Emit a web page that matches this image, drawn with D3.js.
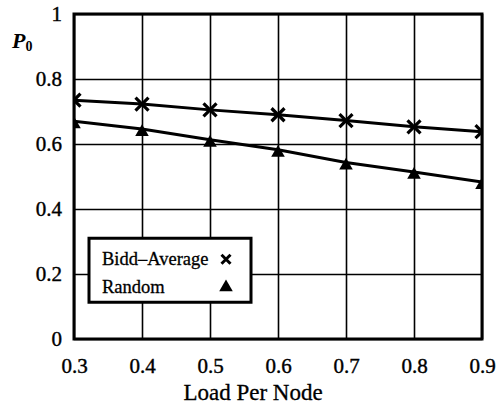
<!DOCTYPE html>
<html>
<head>
<meta charset="utf-8">
<script src="https://cdn.jsdelivr.net/npm/d3@7"></script>
<style>
  body { margin: 0; background: #fff; }
  text { font-family: 'Liberation Serif', 'DejaVu Serif', serif; fill: #000; }
</style>
</head>
<body>
<div id="chart"></div>
<script>
var loads = [0.3, 0.4, 0.5, 0.6, 0.7, 0.8, 0.9];
var biddAverage = [0.735, 0.723, 0.705, 0.69, 0.672, 0.653, 0.638];
var randomP0 = [0.67, 0.646, 0.613, 0.582, 0.543, 0.514, 0.483];
var xTicks = [0.3, 0.4, 0.5, 0.6, 0.7, 0.8, 0.9];
var yTicks = [0, 0.2, 0.4, 0.6, 0.8, 1];
var yTickLabels = ['0', '0.2', '0.4', '0.6', '0.8', '1'];
var seriesNames = ['Bidd\u2013Average', 'Random'];

var W = 498, H = 409;
var margin = { top: 14, right: 16, bottom: 70, left: 74 };
var width = W - margin.left - margin.right;
var height = H - margin.top - margin.bottom;

var svg = d3.select('#chart').append('svg')
  .attr('width', W)
  .attr('height', H);

var g = svg.append('g')
  .attr('transform', 'translate(' + margin.left + ',' + margin.top + ')');

var x = d3.scaleLinear().domain([0.3, 0.9]).range([0, width]);
var y = d3.scaleLinear().domain([0, 1]).range([height, 0]);

g.append('clipPath').attr('id', 'clip')
  .append('rect').attr('width', width).attr('height', height);

//--- GRID
g.append('g')
  .attr('transform', 'translate(0,' + height + ')')
  .call(d3.axisBottom(x).tickValues(xTicks).tickSize(-height).tickFormat(''))
  .call(function(s) {
    s.select('.domain').remove();
    s.selectAll('line').attr('stroke', '#000').attr('stroke-width', 1.6);
  });

g.append('g')
  .call(d3.axisLeft(y).tickValues(yTicks).tickSize(-width).tickFormat(''))
  .call(function(s) {
    s.select('.domain').remove();
    s.selectAll('line').attr('stroke', '#000').attr('stroke-width', 1.6);
  });

//--- TICK LABELS
g.append('g')
  .attr('transform', 'translate(0,' + height + ')')
  .call(d3.axisBottom(x).tickValues(xTicks).tickSize(0).tickPadding(19)
    .tickFormat(d3.format('.1f')))
  .call(function(s) {
    s.select('.domain').remove();
    s.selectAll('text').attr('font-size', 21).attr('font-family', 'Liberation Serif')
      .attr('stroke', '#000').attr('stroke-width', 0.4);
  });

g.append('g')
  .call(d3.axisLeft(y).tickValues(yTicks).tickSize(0).tickPadding(12)
    .tickFormat(function(d, i) { return yTickLabels[i]; }))
  .call(function(s) {
    s.select('.domain').remove();
    s.selectAll('text').attr('font-size', 21).attr('font-family', 'Liberation Serif')
      .attr('stroke', '#000').attr('stroke-width', 0.4);
  });

//--- LINES
var series = [biddAverage, randomP0];
var line = d3.line()
  .x(function(d, i) { return x(loads[i]); })
  .y(function(d) { return y(d); });

var plot = g.append('g').attr('clip-path', 'url(#clip)');

series.forEach(function(s) {
  plot.append('path')
    .datum(s)
    .attr('fill', 'none')
    .attr('stroke', '#000')
    .attr('stroke-width', 3)
    .attr('d', line);
});

function cross(sel, size, sw) {
  sel.append('path')
    .attr('d', 'M' + (-size) + ',' + (-size) + 'L' + size + ',' + size +
      'M' + (-size) + ',' + size + 'L' + size + ',' + (-size))
    .attr('stroke', '#000').attr('stroke-width', sw).attr('fill', 'none');
}

var triangle = d3.symbol().type(d3.symbolTriangle).size(80);

plot.selectAll('.xmark')
  .data(biddAverage)
  .join('g')
  .attr('class', 'xmark')
  .attr('transform', function(d, i) { return 'translate(' + x(loads[i]) + ',' + y(d) + ')'; })
  .each(function() { cross(d3.select(this), 6.5, 3.2); });

plot.selectAll('.tri')
  .data(randomP0)
  .join('path')
  .attr('class', 'tri')
  .attr('transform', function(d, i) { return 'translate(' + x(loads[i]) + ',' + (y(d) + 3) + ')'; })
  .attr('d', triangle)
  .attr('fill', '#000');

//--- FRAME
g.append('rect')
  .attr('width', width).attr('height', height)
  .attr('fill', 'none').attr('stroke', '#000').attr('stroke-width', 3);

//--- LEGEND
var legend = g.append('g').attr('transform', 'translate(15,' + (y(0.31)) + ')');
legend.append('rect')
  .attr('width', 162).attr('height', 64)
  .attr('fill', '#fff').attr('stroke', '#000').attr('stroke-width', 3);

legend.append('text').attr('x', 13).attr('y', 27).attr('font-size', 18.5)
  .attr('stroke', '#000').attr('stroke-width', 0.3)
  .text(seriesNames[0]);
legend.append('text').attr('x', 13).attr('y', 55).attr('font-size', 18.5)
  .attr('stroke', '#000').attr('stroke-width', 0.3)
  .text(seriesNames[1]);
cross(legend.append('g').attr('transform', 'translate(137,21)'), 4.5, 3);
legend.append('path')
  .attr('transform', 'translate(137,49)')
  .attr('d', triangle)
  .attr('fill', '#000');

//--- AXIS TITLES
svg.append('text')
  .attr('x', 253)
  .attr('y', 400)
  .attr('text-anchor', 'middle')
  .attr('font-size', 23)
  .attr('stroke', '#000').attr('stroke-width', 0.3)
  .text('Load Per Node');

var p0 = svg.append('text').attr('x', 12).attr('y', 48)
  .attr('font-size', 22).attr('font-style', 'italic').attr('font-weight', 'bold');
p0.append('tspan').text('P');
p0.append('tspan').attr('dy', 3).attr('font-size', 14).attr('font-style', 'normal').text('0');
</script>
</body>
</html>
